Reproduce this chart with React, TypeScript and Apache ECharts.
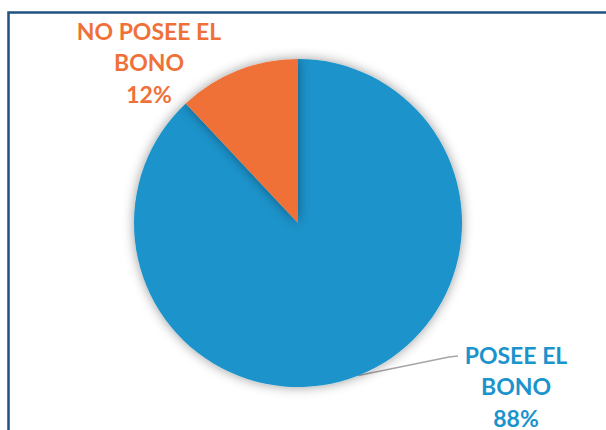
import React, { useEffect, useRef } from "react";
import * as echarts from "echarts";

const categories = ["POSEE EL BONO", "NO POSEE EL BONO"];
const values = [88, 12];
const colors = ["#1B93CB", "#EF7139"];

export default function App() {
  const ref = useRef<HTMLDivElement>(null);
  useEffect(() => {
    document.body.style.margin = "0";
    const chart = echarts.init(ref.current!, null, { renderer: "svg" });
    const labelPos = [
      { x: 516, y: 386 },
      { x: 149, y: 62 },
    ];
    chart.setOption({
      animation: false,
      backgroundColor: "#ffffff",
      graphic: [
        {
          type: "rect",
          shape: { x: 8.5, y: 12.5, width: 700, height: 500 },
          style: { fill: "none", stroke: "#1F5283", lineWidth: 2.5 },
          silent: true,
        },
      ],
      series: [
        {
          type: "pie",
          center: [298, 223],
          radius: 164,
          startAngle: 90,
          clockwise: true,
          percentPrecision: 0,
          itemStyle: {
            shadowBlur: 12,
            shadowColor: "rgba(0,0,0,0.4)",
            shadowOffsetX: 0,
            shadowOffsetY: 0,
          },
          label: {
            show: true,
            position: "outside",
            fontFamily: "Lato",
            fontWeight: "bold",
            fontSize: 23,
            lineHeight: 31.5,
            align: "center",
            formatter: (p: any) => {
              const n: string = p.name;
              const i = n.lastIndexOf(" ");
              return n.slice(0, i) + "\n" + n.slice(i + 1) + "\n" + Math.round(p.percent) + "%";
            },
          },
          labelLine: {
            show: true,
            length: 20,
            length2: 20,
            lineStyle: { color: "#A6A6A6", width: 1.5 },
          },
          labelLayout: (params: any) => {
            const pos = labelPos[params.dataIndex];
            const res: any = { x: pos.x, y: pos.y, align: "center", verticalAlign: "middle" };
            if (params.dataIndex === 0 && params.labelLinePoints) {
              const p0 = params.labelLinePoints[0];
              res.labelLinePoints = [p0, [449, 357], [458, 356]];
            }
            return res;
          },
          data: categories.map((name, i) => ({
            name,
            value: values[i],
            itemStyle: { color: colors[i] },
            label: { color: colors[i] },
            labelLine: { show: i === 0 },
          })),
        },
      ],
    });
    return () => chart.dispose();
  }, []);
  return <div ref={ref} style={{ width: 606, height: 430 }} />;
}
